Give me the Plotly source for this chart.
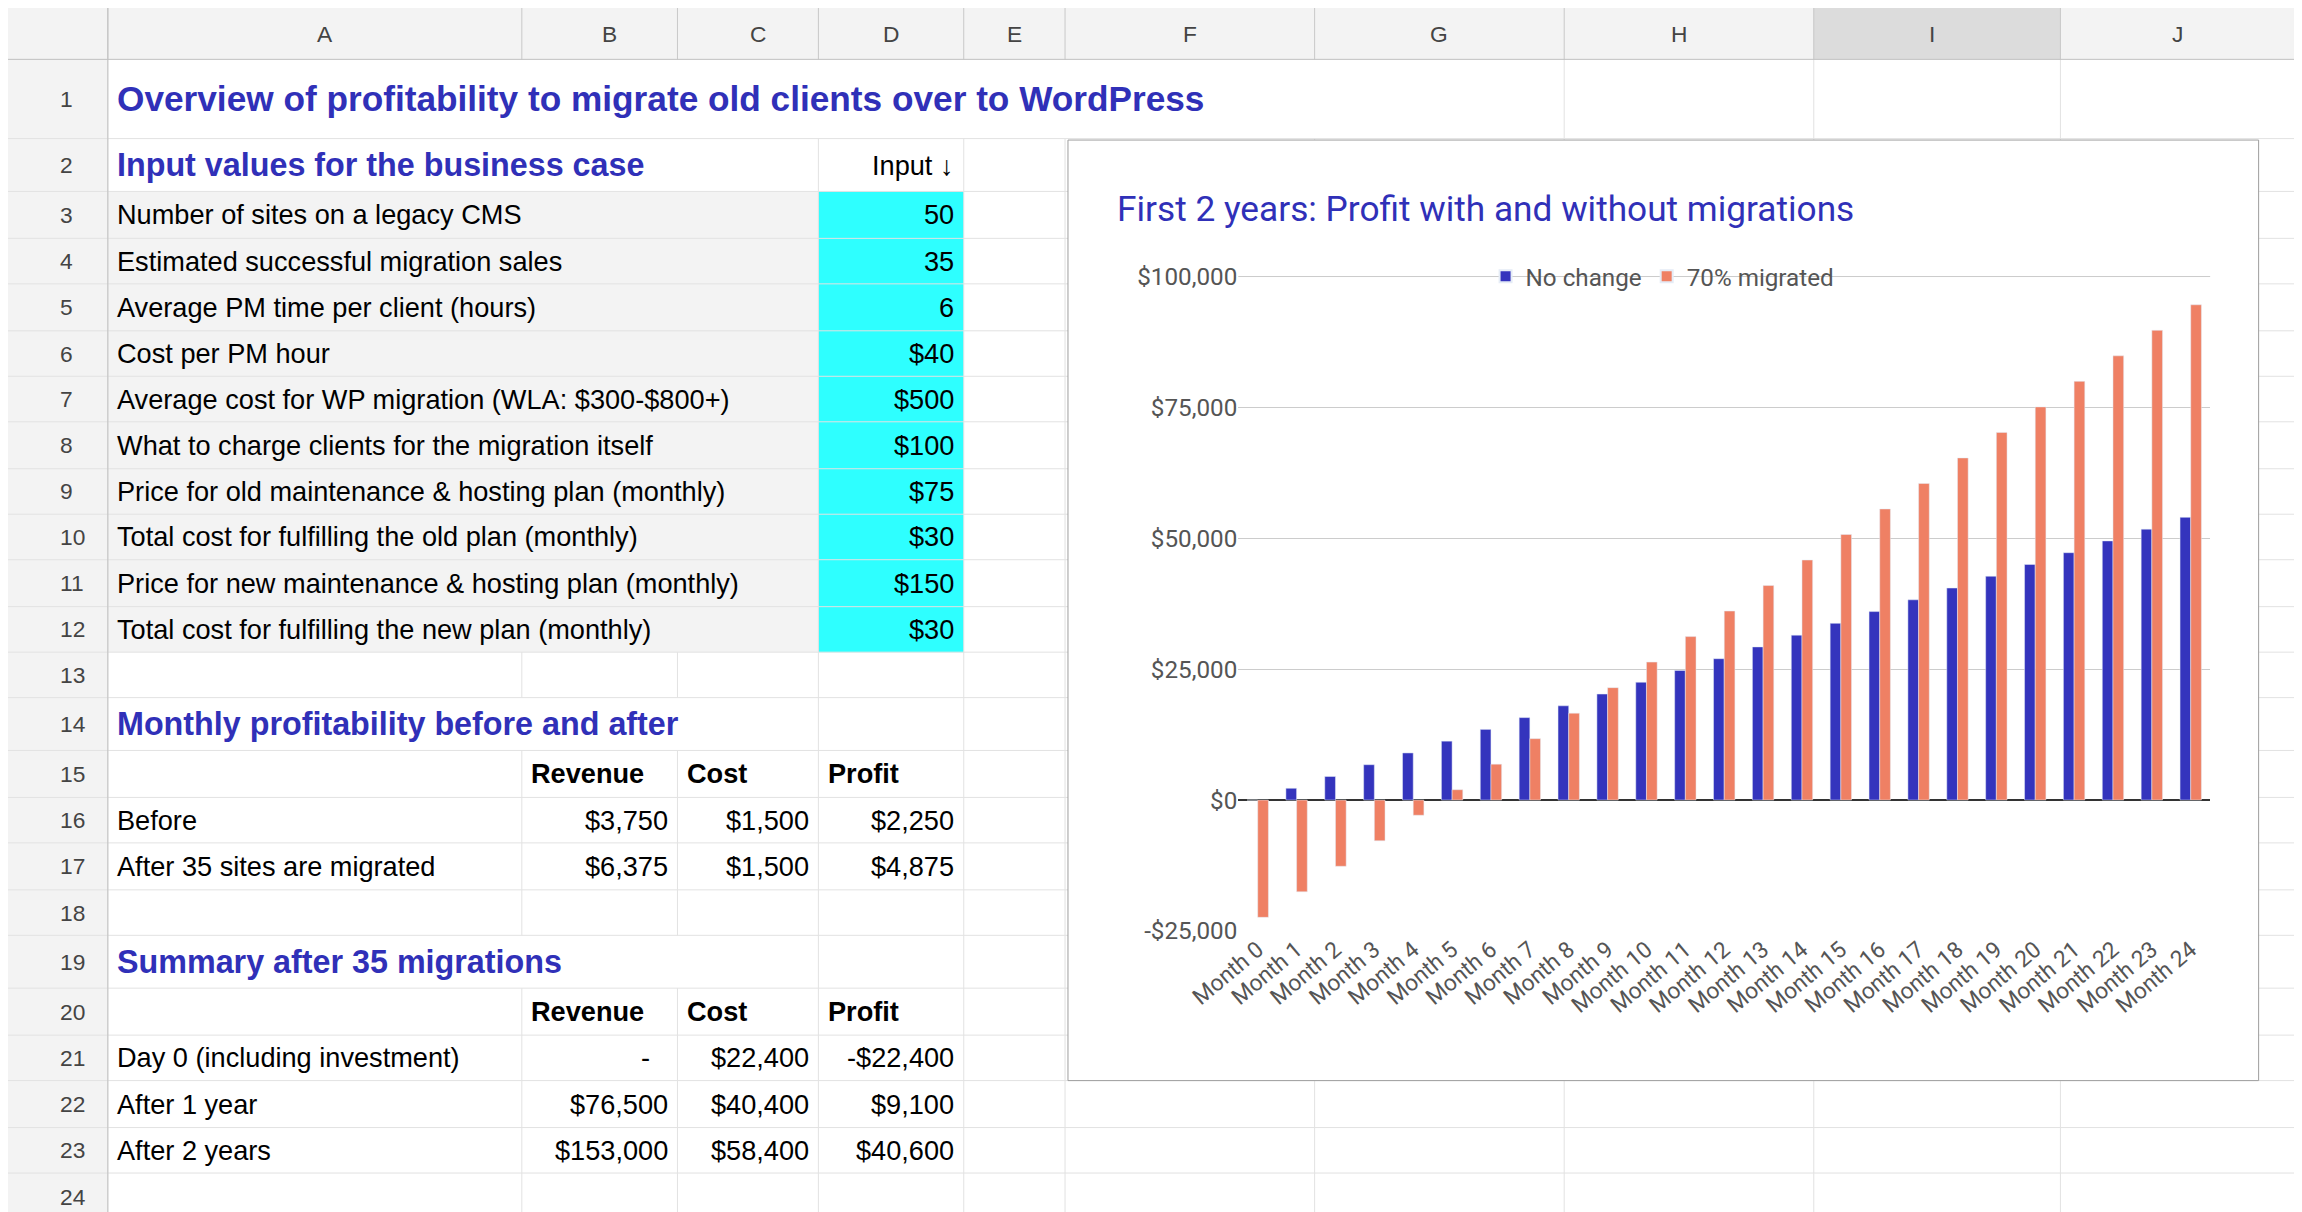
import plotly.graph_objects as go

# ---- data ----
months = ["Month %d" % i for i in range(25)]
no_change = [0, 2250, 4500, 6750, 9000, 11250, 13500, 15750, 18000, 20250, 22500, 24750,
             27000, 29250, 31500, 33750, 36000, 38250, 40500, 42750, 45000, 47250, 49500, 51750, 54000]
migrated = [-22400, -17525, -12650, -7775, -2900, 1975, 6850, 11725, 16600, 21475, 26350, 31225,
            36100, 40975, 45850, 50725, 55600, 60475, 65350, 70225, 75100, 79975, 84850, 89725, 94600]
y_ticks = [-25000, 0, 25000, 50000, 75000, 100000]
y_tick_text = ["-$25,000", "$0", "$25,000", "$50,000", "$75,000", "$100,000"]

input_labels = ["Number of sites on a legacy CMS", "Estimated successful migration sales",
                "Average PM time per client (hours)", "Cost per PM hour",
                "Average cost for WP migration (WLA: $300-$800+)",
                "What to charge clients for the migration itself",
                "Price for old maintenance & hosting plan (monthly)",
                "Total cost for fulfilling the old plan (monthly)",
                "Price for new maintenance & hosting plan (monthly)",
                "Total cost for fulfilling the new plan (monthly)"]
input_values = ["50", "35", "6", "$40", "$500", "$100", "$75", "$30", "$150", "$30"]

monthly_rows = ["Before", "After 35 sites are migrated"]
monthly_rev = ["$3,750", "$6,375"]
monthly_cost = ["$1,500", "$1,500"]
monthly_profit = ["$2,250", "$4,875"]

summary_rows = ["Day 0 (including investment)", "After 1 year", "After 2 years"]
summary_rev = ["-", "$76,500", "$153,000"]
summary_cost = ["$22,400", "$40,400", "$58,400"]
summary_profit = ["-$22,400", "$9,100", "$40,600"]

# ---- geometry (in units of a 1568x826 screen, scaled to paper) ----
W, H = 1568.0, 826.0
S = 2302 / W
BLUE = "#3030b8"
FONT = "Liberation Sans"

def px(x): return x / W
def py(y): return 1 - y / H

rb = [35, 89, 125, 157, 188, 220, 251, 282, 314, 345, 376, 408, 439, 470, 506,
      538, 569, 601, 632, 668, 700, 731, 763, 794, 826]
cb = {"A": (68, 350), "B": (350, 456), "C": (456, 552), "D": (552, 651), "E": (651, 720),
      "F": (720, 890), "G": (890, 1060), "H": (1060, 1230), "I": (1230, 1398), "J": (1398, 1568)}

shapes, annots = [], []

def rect(x0, y0, x1, y1, fill, line=None):
    shapes.append(dict(type="rect", xref="paper", yref="paper", x0=px(x0), x1=px(x1),
                       y0=py(y1), y1=py(y0), fillcolor=fill, layer="below",
                       line=dict(width=1 if line else 0, color=line or fill)))

def seg(x0, y0, x1, y1, color="#e2e2e2"):
    shapes.append(dict(type="line", xref="paper", yref="paper", x0=px(x0), x1=px(x1),
                       y0=py(y0), y1=py(y1), layer="below", line=dict(width=1, color=color)))

def text(row, col, t, align="left", bold=False, color="#000", size=18.5):
    x0, x1 = cb[col]
    yc = (rb[row - 1] + rb[row]) / 2
    x = x0 + 5 if align == "left" else x1 - 5
    annots.append(dict(xref="paper", yref="paper", x=px(x), y=py(yc), text=("<b>%s</b>" % t) if bold else t,
                       showarrow=False, xanchor=align, yanchor="middle",
                       font=dict(family=FONT, size=size * S, color=color)))

# backgrounds
rect(0, 0, W, 35, "#f3f3f3")
rect(0, 0, 68, H, "#f3f3f3")
rect(1230, 0, 1398, 35, "#dcdcdc")
rect(68, 125, 552, 439, "#f3f3f3")
rect(552, 125, 651, 439, "#2effff")

# grid
merged = {1: (350, 1060), 2: (350, 552), 14: (350, 552), 19: (350, 552)}
for r in range(1, 25):
    seg(0, rb[r], W, rb[r])
for c, (x0, x1) in cb.items():
    for r in range(1, 25):
        skip = False
        if r in merged and merged[r][0] <= x0 < merged[r][1]:
            skip = True
        if 3 <= r <= 12 and x0 in (350, 456):
            skip = True
        if not skip:
            seg(x0, rb[r - 1], x0, rb[r])
    seg(x0, 0, x0, 35, "#c8c8c8")
    annots.append(dict(xref="paper", yref="paper", x=px((x0 + x1) / 2), y=py(17.5), text=c, showarrow=False,
                       yanchor="middle", font=dict(family=FONT, size=15.5 * S, color="#444")))
seg(0, 35, W, 35, "#c0c0c0")
seg(68, 0, 68, H, "#c0c0c0")
for r in range(1, 25):
    annots.append(dict(xref="paper", yref="paper", x=px(34), y=py((rb[r - 1] + rb[r]) / 2), text=str(r),
                       showarrow=False, yanchor="middle", font=dict(family=FONT, size=15.5 * S, color="#444")))

# cell text
text(1, "A", "Overview of profitability to migrate old clients over to WordPress", bold=True, color=BLUE, size=24)
text(2, "A", "Input values for the business case", bold=True, color=BLUE, size=22)
text(2, "D", "Input ↓", align="right")
for i, (lab, val) in enumerate(zip(input_labels, input_values)):
    text(3 + i, "A", lab)
    text(3 + i, "D", val, align="right")
text(14, "A", "Monthly profitability before and after", bold=True, color=BLUE, size=22)
text(19, "A", "Summary after 35 migrations", bold=True, color=BLUE, size=22)
for r in (15, 20):
    for col, h in zip("BCD", ["Revenue", "Cost", "Profit"]):
        text(r, col, h, bold=True)
for i in range(2):
    text(16 + i, "A", monthly_rows[i])
    text(16 + i, "B", monthly_rev[i], align="right")
    text(16 + i, "C", monthly_cost[i], align="right")
    text(16 + i, "D", monthly_profit[i], align="right")
for i in range(3):
    text(21 + i, "A", summary_rows[i])
    if summary_rev[i] == "-":
        annots.append(dict(xref="paper", yref="paper", x=px(430), y=py((rb[20] + rb[21]) / 2), text="-",
                           showarrow=False, yanchor="middle", font=dict(family=FONT, size=18.5 * S, color="#000")))
    else:
        text(21 + i, "B", summary_rev[i], align="right")
    text(21 + i, "C", summary_cost[i], align="right")
    text(21 + i, "D", summary_profit[i], align="right")

# chart box (covers grid)
rect(722, 90, 1533, 731, "#ffffff", line="#9e9e9e")
seg(838, 183, 1500, 183, "#cccccc")
annots.append(dict(xref="paper", yref="paper", x=px(754), y=py(137), text="First 2 years: Profit with and without migrations",
                   showarrow=False, xanchor="left", yanchor="middle",
                   font=dict(family="Roboto", size=24 * S, color=BLUE)))

fig = go.Figure()
fig.add_trace(go.Bar(x=months, y=no_change, name="No change", marker_color="#3434bd"))
fig.add_trace(go.Bar(x=months, y=migrated, name="70% migrated", marker_color="#ef8064"))

fig.update_layout(
    width=2302, height=1212, margin=dict(l=0, r=0, t=0, b=0, autoexpand=False),
    paper_bgcolor="white", plot_bgcolor="rgba(0,0,0,0)",
    shapes=shapes, annotations=annots,
    barmode="group", bargap=0.45, bargroupgap=0.0,
    legend=dict(orientation="h", x=px(1127), xanchor="center", y=py(183), yanchor="middle",
                bgcolor="rgba(0,0,0,0)", itemsizing="constant",
                font=dict(family="Roboto", size=16.5 * S, color="#555")),
    xaxis=dict(domain=[px(838), px(1500)], tickangle=-40, showgrid=False, automargin=False,
               tickfont=dict(family="Roboto", size=15.5 * S, color="#555")),
    yaxis=dict(domain=[py(629), py(183)], range=[-25000, 100000], tickmode="array",
               tickvals=y_ticks, ticktext=y_tick_text, automargin=False,
               gridcolor="#cccccc", zeroline=True,
               zerolinecolor="#333333", zerolinewidth=1.5, ticksuffix="  ",
               tickfont=dict(family="Roboto", size=16.5 * S, color="#555")),
    font=dict(family=FONT),
)

fig.write_html("out.html")
